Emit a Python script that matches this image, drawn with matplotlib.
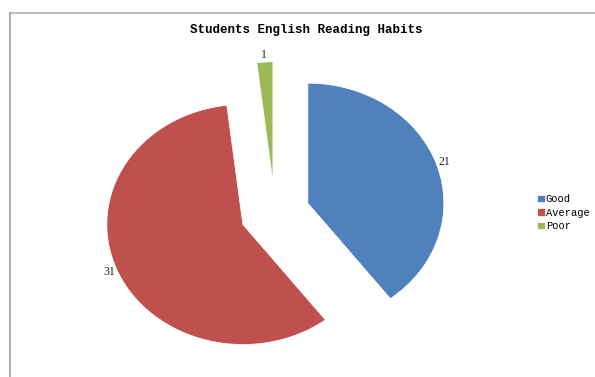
import matplotlib
matplotlib.use("Agg")
import matplotlib.pyplot as plt
from matplotlib.lines import Line2D

categories = ["Good", "Average", "Poor"]
values = [21, 31, 1]
colors = ["#4F81BD", "#C0504D", "#9BBB59"]
title = "Students English Reading Habits"

W, H = 595, 377
fig = plt.figure(figsize=(W / 100, H / 100), dpi=100)
fig.patch.set_facecolor("white")

# frame lines (chart area border, cut off at right/bottom)
fig.add_artist(Line2D([10 / W, 1], [1 - 13 / H, 1 - 13 / H], color="#c0c0c0", lw=1.5, transform=fig.transFigure))
fig.add_artist(Line2D([10 / W, 10 / W], [1 - 13 / H, 0], color="#a0a0a0", lw=1.2, transform=fig.transFigure))

# pie geometry in pixels: centre (275, 213), rx=136, ry=120
cx, cy, rx, ry = 275, 213, 136, 120
xl, xh = -1.5, 1.5
yl, yh = -1.3, 1.5
left = cx + xl * rx
right = cx + xh * rx
top = cy - yh * ry
bottom = cy - yl * ry
ax = fig.add_axes([left / W, 1 - bottom / H, (right - left) / W, (bottom - top) / H])

wedges, texts, autotexts = ax.pie(
    values,
    colors=colors,
    explode=[0.255, 0.255, 0.26],
    startangle=90,
    counterclock=False,
    autopct=lambda p: "%d" % round(p * sum(values) / 100.0),
    pctdistance=1.06,
    wedgeprops=dict(edgecolor="white", linewidth=0.5),
    textprops=dict(fontsize=8.5, family=["Liberation Serif", "DejaVu Serif"], color="#222222"),
)
ax.set_aspect("auto")
ax.set_xlim(xl, xh)
ax.set_ylim(yl, yh)
ax.axis("off")

fig.text(306 / W, 1 - 30 / H, title, ha="center", va="center",
         fontsize=9, fontweight="bold", family=["Liberation Mono", "DejaVu Sans Mono"])

leg = fig.legend(
    wedges, categories,
    loc="upper left", bbox_to_anchor=(537 / W, 1 - 194 / H),
    frameon=False, handlelength=0.75, handleheight=0.75, handletextpad=0.1,
    labelspacing=0.35, borderpad=0, borderaxespad=0,
    prop=dict(family=["Liberation Mono", "DejaVu Sans Mono"], size=7.5),
)

fig.savefig("out.png", dpi=100, facecolor="white")
